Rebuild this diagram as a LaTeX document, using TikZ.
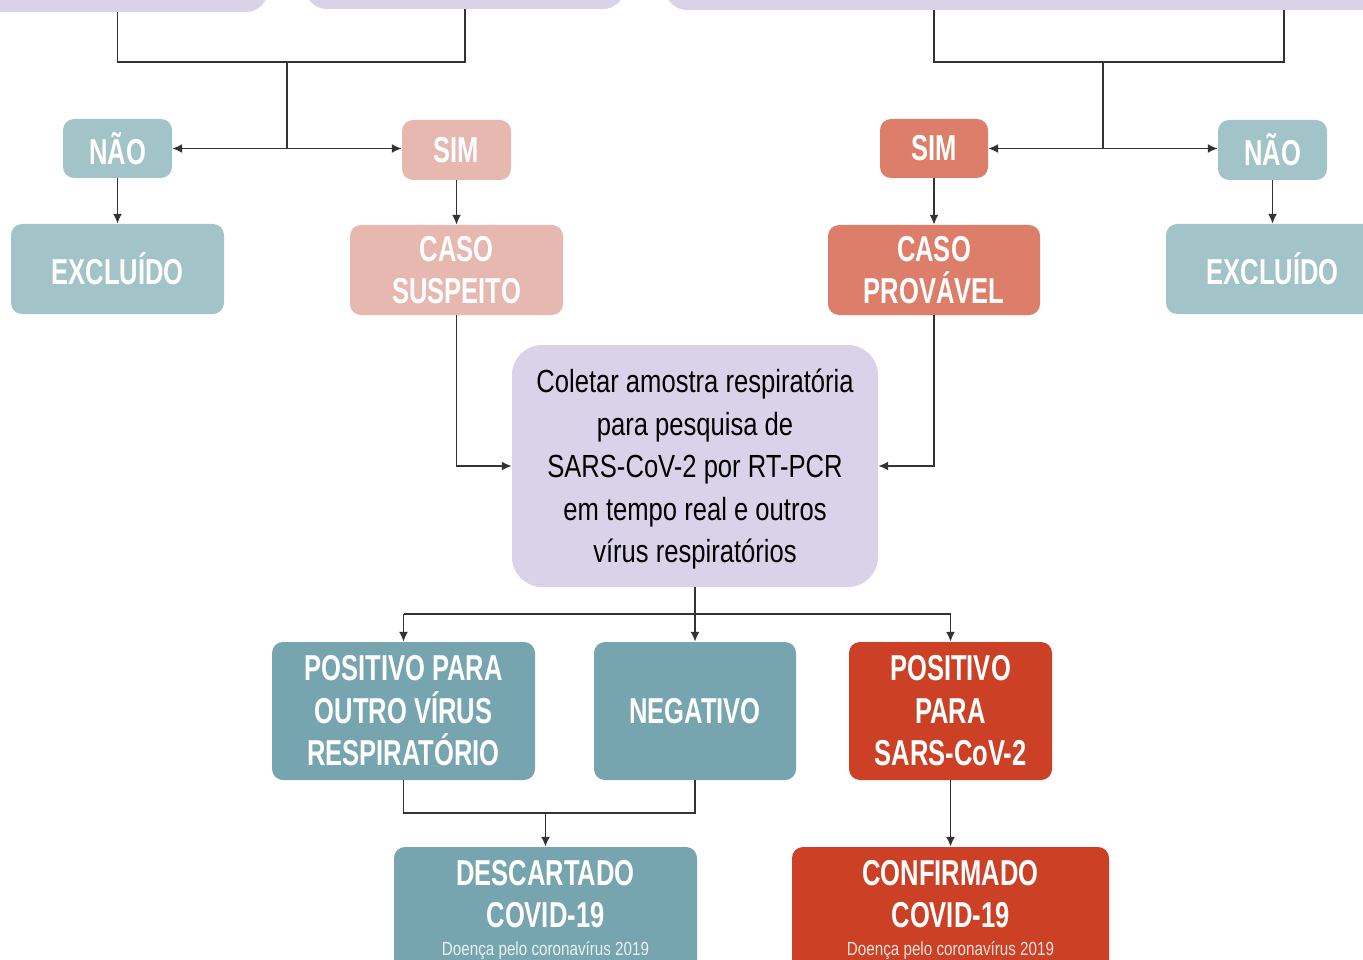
\documentclass[tikz,border=0pt]{standalone}
\usepackage{fontspec}
\setmainfont{Liberation Sans}
\newfontfamily\capf[FakeStretch=0.71]{Liberation Sans Bold}
\newfontfamily\bodyf[FakeStretch=0.8]{Liberation Sans}
\usetikzlibrary{arrows.meta}
\definecolor{lteal}{HTML}{A2C4C9}
\definecolor{dteal}{HTML}{76A5AF}
\definecolor{lpink}{HTML}{E6B8AF}
\definecolor{salmon}{HTML}{DD7E6B}
\definecolor{redc}{HTML}{CC4125}
\definecolor{lpurple}{HTML}{D9D2E9}
\definecolor{wirec}{HTML}{333333}
\tikzset{
  box/.style={rounded corners=11pt, inner sep=0pt, align=center, text=white,
    font=\capf\fontsize{36}{42.5}\selectfont},
  topbox/.style={rounded corners=22pt, fill=lpurple, inner sep=0pt},
  wire/.style={line width=1.8pt, draw=wirec},
  arr/.style={wire, -{Latex[length=10pt,width=9pt]}},
  biarr/.style={wire, {Latex[length=10pt,width=9pt]}-{Latex[length=10pt,width=9pt]}},
  subt/.style={text=white, inner sep=0pt, font=\capf\fontsize{36}{42}\selectfont},
  small/.style={text=white, inner sep=0pt, font=\bodyf\fontsize{19}{22}\selectfont, text opacity=0.85},
}
\begin{document}
\begin{tikzpicture}[x=1pt,y=-1pt]
\useasboundingbox (0,0) rectangle (1363,960);
\clip (0,0) rectangle (1363,960);
\fill[white] (0,0) rectangle (1363,960);

% top (cut-off) boxes
\node[topbox, minimum width=318pt, minimum height=92pt] (tA) at (109,-34) {};
\node[topbox, minimum width=320pt, minimum height=89pt] (tB) at (465,-35.5) {};
\node[topbox, minimum width=755pt, minimum height=90pt] (tC) at (1042.5,-35) {};

% level 1
\node[box, fill=lteal, minimum width=109pt, minimum height=59pt] (naoL) at (117.5,148.5) {NÃO};
\node[box, fill=lpink, minimum width=109pt, minimum height=60pt] (simL) at (456.5,150) {SIM};
\node[box, fill=salmon, minimum width=108pt, minimum height=59pt] (simR) at (934,148.5) {SIM};
\node[box, fill=lteal, minimum width=109pt, minimum height=60pt] (naoR) at (1272.5,150) {NÃO};

% level 2
\node[box, fill=lteal, minimum width=213pt, minimum height=90pt] (excL) at (117.5,269) {EXCLUÍDO};
\node[box, fill=lpink, minimum width=213pt, minimum height=90pt] (casoS) at (456.5,270) {CASO\\SUSPEITO};
\node[box, fill=salmon, minimum width=212pt, minimum height=90pt] (casoP) at (934,270) {CASO\\PROVÁVEL};
\node[box, fill=lteal, minimum width=213pt, minimum height=90pt] (excR) at (1272.5,269) {EXCLUÍDO};

% center
\node[box, rounded corners=30pt, fill=lpurple, text=black, minimum width=366pt, minimum height=242pt,
  text depth=0pt, font=\bodyf\fontsize{32}{42.5}\selectfont] (coleta) at (695,466)
  {Coletar amostra respiratória\\para pesquisa de\\SARS-CoV-2 por RT-PCR\\em tempo real e outros\\vírus respiratórios};

% results
\node[box, fill=dteal, minimum width=263pt, minimum height=138pt] (posO) at (403.5,711) {POSITIVO PARA\\OUTRO VÍRUS\\RESPIRATÓRIO};
\node[box, fill=dteal, minimum width=202pt, minimum height=138pt] (neg) at (695,711) {NEGATIVO};
\node[box, fill=redc, minimum width=203pt, minimum height=138pt] (posS) at (950.5,711) {POSITIVO\\PARA\\SARS-CoV-2};

% final
\node[box, fill=dteal, minimum width=303pt, minimum height=126pt] (desc) at (545.5,910) {};
\node[subt, anchor=base] (descA) at (545.5,885) {DESCARTADO};
\node[subt, anchor=base] (descB) at (545.5,927) {COVID-19};
\node[small, anchor=base] (descC) at (545.5,955) {Doença pelo coronavírus 2019};

\node[box, fill=redc, minimum width=317pt, minimum height=126pt] (conf) at (950.5,910) {};
\node[subt, anchor=base] (confA) at (950.5,885) {CONFIRMADO};
\node[subt, anchor=base] (confB) at (950.5,927) {COVID-19};
\node[small, anchor=base] (confC) at (950.5,955) {Doença pelo coronavírus 2019};

% connectors top-left
\coordinate (j1) at (287,62);
\draw[wire] (tA.south -| naoL) |- (j1) -| (tB.south);
\draw[wire] (j1) -- (j1 |- naoL.east);
\draw[biarr] (naoL.east) -- (naoL.east -| simL.west);

% connectors top-right
\coordinate (j2) at (1103,62);
\coordinate (tr2) at (1284,10);
\draw[wire] (tC.south -| simR) |- (j2) -| (tr2);
\draw[wire] (j2) -- (j2 |- simR.east);
\draw[biarr] (simR.east) -- (simR.east -| naoR.west);

% down arrows
\draw[arr] (naoL.south) -- (excL.north);
\draw[arr] (simL.south) -- (casoS.north);
\draw[arr] (simR.south) -- (casoP.north);
\draw[arr] (naoR.south) -- (excR.north);

% to center
\draw[arr] (casoS.south) |- (coleta.west);
\draw[arr] (casoP.south) |- (coleta.east);

% fan out
\coordinate (f) at (695,614);
\draw[wire] (coleta.south) -- (f);
\draw[wire] (posO.north |- f) -- (posS.north |- f);
\draw[arr] (posO.north |- f) -- (posO.north);
\draw[arr] (f) -- (neg.north);
\draw[arr] (posS.north |- f) -- (posS.north);

% merge
\coordinate (m) at (545.5,813);
\draw[wire] (posO.south) |- (m) -| (neg.south);
\draw[arr] (m) -- (desc.north);
\draw[arr] (posS.south) -- (conf.north);
\end{tikzpicture}
\end{document}
